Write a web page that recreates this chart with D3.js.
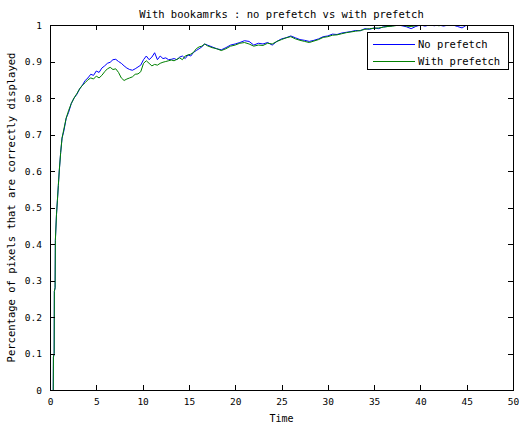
<!DOCTYPE html>
<html>
<head>
<meta charset="utf-8">
<script src="https://cdn.jsdelivr.net/npm/d3@7"></script>
<style>
  html, body { margin: 0; padding: 0; background: #fff; }
  svg { display: block; }
  text { font-family: "DejaVu Sans Mono", monospace; fill: #000; }
</style>
</head>
<body>
<script>
const chartTitle = "With bookamrks : no prefetch vs with prefetch";
const xLabel = "Time";
const yLabel = "Percentage of pixels that are correctly displayed";
const seriesNames = ["No prefetch", "With prefetch"];
const xTicks = [0, 5, 10, 15, 20, 25, 30, 35, 40, 45, 50];
const yTicks = [0, 0.1, 0.2, 0.3, 0.4, 0.5, 0.6, 0.7, 0.8, 0.9, 1];

const times = [
  0.35, 0.37, 0.45, 0.47, 0.55, 0.58, 0.7, 0.8, 0.9, 1.0, 1.15, 1.3, 1.5, 1.75, 2.0, 2.3, 2.6, 2.9,
  3.2, 3.5, 3.8, 4.1, 4.4, 4.7, 5.0, 5.3, 5.6, 5.9, 6.2, 6.5, 6.8, 7.1, 7.4, 7.7,
  8.0, 8.3, 8.6, 8.9, 9.2, 9.5, 9.8, 10.1, 10.4, 10.7, 11.0, 11.3, 11.6, 11.9, 12.2, 12.5,
  12.8, 13.1, 13.4, 13.7, 14.0, 14.3, 14.6, 14.9, 15.2, 15.5, 15.8, 16.1, 16.4, 16.7, 17.0,
  17.5, 18.0, 18.5, 19.0, 19.5, 20.0, 20.5, 21.0, 21.5, 22.0, 22.5, 23.0, 23.5, 24.0, 24.5,
  25.0, 25.5, 26.0, 26.5, 27.0, 27.5, 28.0, 28.5, 29.0, 29.5, 30.0, 30.5, 31.0, 31.5, 32.0,
  32.5, 33.0, 33.5, 34.0, 34.5, 35.0, 35.5, 36.0, 36.5, 37.0, 37.5, 38.0, 38.5, 39.0, 39.5,
  40.0, 40.5, 41.0, 41.5, 42.0, 42.5, 43.0, 43.5, 44.0, 44.5, 45.0
];

const noPrefetch = [
  0, 0.09, 0.10, 0.27, 0.28, 0.41, 0.48, 0.52, 0.56, 0.60, 0.65, 0.69, 0.71, 0.745, 0.76, 0.785, 0.80, 0.81,
  0.825, 0.835, 0.848, 0.855, 0.865, 0.862, 0.874, 0.870, 0.882, 0.888, 0.895, 0.898, 0.905, 0.906, 0.900, 0.895,
  0.888, 0.882, 0.878, 0.876, 0.880, 0.885, 0.890, 0.905, 0.915, 0.905, 0.912, 0.924, 0.905, 0.915, 0.908, 0.910,
  0.905, 0.906, 0.908, 0.905, 0.912, 0.915, 0.908, 0.918, 0.915, 0.925, 0.930, 0.935, 0.940, 0.948, 0.945,
  0.940, 0.935, 0.932, 0.938, 0.945, 0.948, 0.952, 0.957, 0.955, 0.945, 0.950, 0.948, 0.952, 0.945, 0.955,
  0.962, 0.965, 0.970, 0.965, 0.960, 0.958, 0.955, 0.958, 0.962, 0.968, 0.970, 0.975, 0.974, 0.978, 0.980,
  0.982, 0.985, 0.984, 0.990, 0.988, 0.992, 0.990, 0.995, 0.996, 0.998, 1.0, 0.998, 0.995, 0.990, 0.996,
  1.0, 0.997, 1.0, 0.998, 1.0, 0.997, 1.0, 1.0, 0.996, 0.992, 1.0
];

const withPrefetch = [
  0, 0.09, 0.10, 0.27, 0.28, 0.41, 0.48, 0.52, 0.56, 0.60, 0.65, 0.69, 0.715, 0.745, 0.765, 0.785, 0.80, 0.812,
  0.825, 0.835, 0.842, 0.850, 0.855, 0.852, 0.860, 0.855, 0.862, 0.872, 0.880, 0.884, 0.878, 0.880, 0.870, 0.855,
  0.848, 0.852, 0.855, 0.858, 0.865, 0.866, 0.872, 0.895, 0.902, 0.895, 0.888, 0.892, 0.890, 0.895, 0.898, 0.900,
  0.902, 0.904, 0.902, 0.906, 0.910, 0.905, 0.915, 0.918, 0.920, 0.925, 0.935, 0.940, 0.942, 0.948, 0.943,
  0.938, 0.935, 0.930, 0.935, 0.942, 0.945, 0.950, 0.952, 0.948, 0.942, 0.945, 0.944, 0.950, 0.948, 0.955,
  0.960, 0.965, 0.968, 0.962, 0.958, 0.955, 0.952, 0.956, 0.960, 0.966, 0.968, 0.972, 0.973, 0.976, 0.979,
  0.981, 0.983, 0.985, 0.988, 0.990, 0.991, 0.992, 0.994, 0.996, 0.997, 0.999, 1.0, 0.997, 0.996, 0.998,
  1.0, 0.999, 1.0, 1.0, 0.998, 1.0, 0.999, 1.0, 1.0, 0.998, 1.0
];

const W = 521, H = 425;
const margin = { left: 50, top: 25, right: 8, bottom: 35 };
const svg = d3.select("body").append("svg").attr("width", W).attr("height", H);

const x = d3.scaleLinear().domain([0, 50]).range([margin.left, W - margin.right]);
const y = d3.scaleLinear().domain([0, 1]).range([H - margin.bottom, margin.top]);

svg.append("clipPath").attr("id", "clip").append("rect")
  .attr("x", margin.left).attr("y", margin.top)
  .attr("width", x(50) - x(0)).attr("height", y(0) - y(1));

const colors = ["#0000ff", "#008000"];
const seriesData = [noPrefetch, withPrefetch];
const line = d3.line().x(d => x(d[0])).y(d => y(d[1]));

seriesData.forEach((vals, i) => {
  svg.append("path")
    .datum(times.map((t, j) => [t, vals[j]]))
    .attr("clip-path", "url(#clip)")
    .attr("fill", "none")
    .attr("stroke", colors[i])
    .attr("stroke-width", 1)
    .attr("d", line);
});

const tickLen = 5;
const xAxisB = d3.axisBottom(x).tickValues(xTicks).tickFormat(d3.format("d")).tickSizeInner(-tickLen).tickSizeOuter(0).tickPadding(8);
const xAxisT = d3.axisTop(x).tickValues(xTicks).tickFormat("").tickSizeInner(-tickLen).tickSizeOuter(0);
const yAxisL = d3.axisLeft(y).tickValues(yTicks).tickFormat(d => d === 0 || d === 1 ? String(d) : d3.format(".1f")(d)).tickSizeInner(-tickLen).tickSizeOuter(0).tickPadding(8);
const yAxisR = d3.axisRight(y).tickValues(yTicks).tickFormat("").tickSizeInner(-tickLen).tickSizeOuter(0);

function style(g) {
  g.select(".domain").remove();
  g.selectAll("line").attr("stroke", "#000").attr("shape-rendering", "crispEdges");
  g.selectAll("text").attr("font-family", "DejaVu Sans Mono, monospace").attr("font-size", 9.5).attr("fill", "#000");
}

svg.append("g").attr("transform", `translate(0,${y(0)})`).call(xAxisB).call(style);
svg.append("g").attr("transform", `translate(0,${y(1)})`).call(xAxisT).call(style);
svg.append("g").attr("transform", `translate(${x(0)},0)`).call(yAxisL).call(style);
svg.append("g").attr("transform", `translate(${x(50)},0)`).call(yAxisR).call(style);

svg.append("rect").attr("x", x(0) + 0.5).attr("y", y(1) + 0.5)
  .attr("width", x(50) - x(0)).attr("height", y(0) - y(1))
  .attr("fill", "none").attr("stroke", "#000").attr("stroke-width", 1);

svg.append("text").attr("x", (x(0) + x(50)) / 2).attr("y", 18)
  .attr("text-anchor", "middle").attr("font-size", 10.5).text(chartTitle);

svg.append("text").attr("x", (x(0) + x(50)) / 2).attr("y", 422)
  .attr("text-anchor", "middle").attr("font-size", 10).text(xLabel);

svg.append("text").attr("transform", `translate(15,${(y(0) + y(1)) / 2}) rotate(-90)`)
  .attr("text-anchor", "middle").attr("font-size", 10.5).text(yLabel);

const lg = svg.append("g");
const lx = 367, ly = 32, lw = 141, lh = 37;
lg.append("rect").attr("x", lx + 0.5).attr("y", ly + 0.5).attr("width", lw).attr("height", lh)
  .attr("fill", "#fff").attr("stroke", "#000").attr("stroke-width", 1);
seriesNames.forEach((name, i) => {
  const yy = ly + 12 + i * 17;
  lg.append("line").attr("x1", lx + 6).attr("x2", lx + 48).attr("y1", yy + 0.5).attr("y2", yy + 0.5)
    .attr("stroke", colors[i]).attr("stroke-width", 1);
  lg.append("text").attr("x", lx + 51).attr("y", yy + 4).attr("font-size", 10.5).text(name);
});
</script>
</body>
</html>
